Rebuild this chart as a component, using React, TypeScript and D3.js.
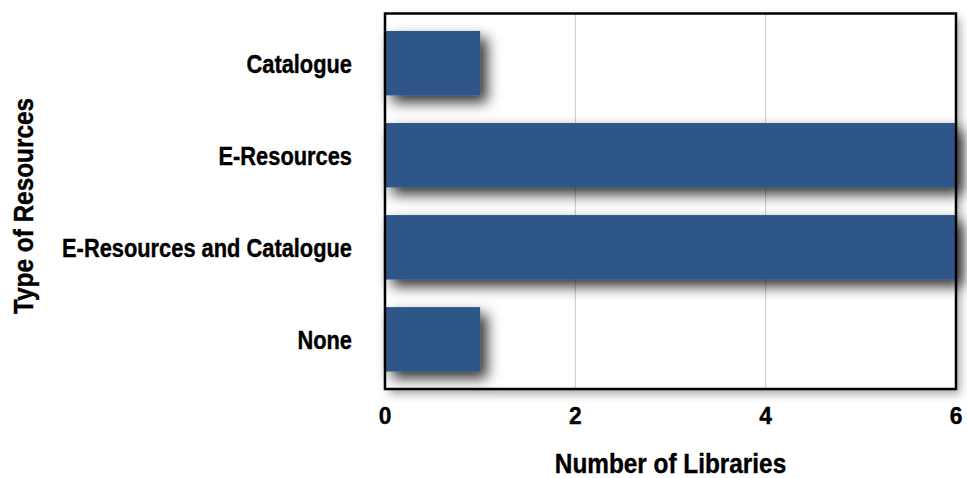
import React from "react";
import * as d3 from "d3";

const categories = ["Catalogue", "E-Resources", "E-Resources and Catalogue", "None"];
const values = [1, 6, 6, 1];
const xTicks = [0, 2, 4, 6];
const xTitle = "Number of Libraries";
const yTitle = "Type of Resources";

const W = 967;
const H = 478;
const M = { left: 385, right: 11, top: 13.5, bottom: 89 };
const FONT = "'Liberation Sans', Arial, sans-serif";

function T({ x, y, anchor, rot, size, sx, children }: { x: number; y: number; anchor: string; rot?: number; size: number; sx: number; children: React.ReactNode }) {
  return (
    <text
      transform={`translate(${x},${y})${rot ? ` rotate(${rot})` : ""} scale(${sx},1)`}
      textAnchor={anchor}
      fontSize={size}
      fontWeight="bold"
      fill="#000"
      stroke="#000"
      strokeWidth={0.4}
    >
      {children}
    </text>
  );
}

export default function App() {
  const x = d3.scaleLinear().domain([0, 6]).range([M.left, W - M.right]);
  const y = d3
    .scaleBand<string>()
    .domain(categories)
    .range([M.top, H - M.bottom])
    .paddingInner(0.3)
    .paddingOuter(0.19);
  const plotW = W - M.right - M.left;
  const plotH = H - M.bottom - M.top;
  return (
    <svg
      width={W}
      height={H}
      style={{ position: "absolute", left: 0, top: 0, fontFamily: FONT }}
    >
      <defs>
        <filter id="sh" x="-20%" y="-40%" width="160%" height="200%">
          <feDropShadow dx="7" dy="7" stdDeviation="7" floodColor="#000" floodOpacity="0.8" />
        </filter>
        <filter id="shf" x="-10%" y="-10%" width="130%" height="130%">
          <feDropShadow dx="4" dy="5" stdDeviation="5" floodColor="#000" floodOpacity="0.35" />
        </filter>
      </defs>
      <rect x={M.left} y={M.top} width={plotW} height={plotH} fill="#fff" filter="url(#shf)" />
      {xTicks.slice(1, -1).map((t) => (
        <line key={t} x1={x(t)} x2={x(t)} y1={M.top} y2={M.top + plotH} stroke="#c8c8c8" strokeWidth={1} />
      ))}
      {categories.map((c, i) => (
        <rect
          key={c}
          x={x(0)}
          y={y(c)}
          width={x(values[i]) - x(0)}
          height={y.bandwidth()}
          fill="#2e5788"
          filter="url(#sh)"
        />
      ))}
      <rect x={M.left} y={M.top} width={plotW} height={plotH} fill="none" stroke="#000" strokeWidth={2.5} />
      {categories.map((c) => (
        <T key={c} x={352} y={(y(c) as number) + y.bandwidth() / 2 + 10} anchor="end" size={26} sx={0.84}>
          {c}
        </T>
      ))}
      {xTicks.map((t) => (
        <T key={t} x={x(t)} y={424} anchor="middle" size={24} sx={0.95}>
          {t}
        </T>
      ))}
      <T x={(M.left + W - M.right) / 2} y={473} anchor="middle" size={28} sx={0.87}>
        {xTitle}
      </T>
      <T x={33} y={206} anchor="middle" rot={-90} size={28} sx={0.87}>
        {yTitle}
      </T>
    </svg>
  );
}
